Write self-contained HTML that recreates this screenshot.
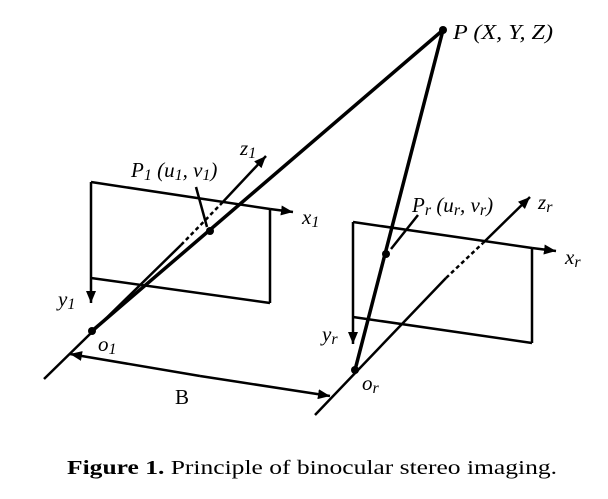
<!DOCTYPE html>
<html><head><meta charset="utf-8"><style>
html,body{margin:0;padding:0;background:#fff;}
svg{display:block;}
text{font-family:"Liberation Serif",serif;fill:#000;}
.it{font-style:italic;}
</style></head><body>
<svg width="608" height="499" viewBox="0 0 608 499" xmlns="http://www.w3.org/2000/svg">
<defs>
<marker id="ab" markerWidth="12" markerHeight="10" refX="12" refY="5" orient="auto" markerUnits="userSpaceOnUse"><path d="M0,0 L12,5 L0,10 z" fill="#000"/></marker>
</defs>
<g stroke="#000" stroke-width="2.5" fill="none">
<line x1="91" y1="182" x2="270" y2="209"/>
<line x1="270" y1="209" x2="293" y2="212" marker-end="url(#ab)"/>
<line x1="270" y1="209" x2="270" y2="303"/>
<line x1="91" y1="278" x2="270" y2="303"/>
<line x1="91" y1="182" x2="91" y2="303" marker-end="url(#ab)"/>
<line x1="44" y1="379" x2="181" y2="245"/>
<line x1="181" y1="245" x2="220" y2="205" stroke-dasharray="4,3"/>
<line x1="220" y1="205" x2="266" y2="156" marker-end="url(#ab)"/>
<line x1="353" y1="222" x2="532" y2="248"/>
<line x1="532" y1="248" x2="556" y2="251" marker-end="url(#ab)"/>
<line x1="532" y1="248" x2="532" y2="343"/>
<line x1="353" y1="317" x2="532" y2="343"/>
<line x1="353" y1="222" x2="353" y2="344" marker-end="url(#ab)"/>
<line x1="315" y1="415" x2="446" y2="278"/>
<line x1="446" y1="278" x2="483" y2="243" stroke-dasharray="4,3"/>
<line x1="483" y1="243" x2="530" y2="197" marker-end="url(#ab)"/>
<line x1="200" y1="376" x2="70" y2="354" marker-end="url(#ab)"/>
<line x1="200" y1="376" x2="330" y2="396" marker-end="url(#ab)"/>
<line x1="196" y1="187" x2="207" y2="227"/>
<line x1="418" y1="215" x2="391" y2="249"/>
</g>
<g stroke="#000" stroke-width="3.5" fill="none">
<line x1="92" y1="331" x2="443" y2="30"/>
<line x1="355" y1="370" x2="443" y2="30"/>
</g>
<g fill="#000">
<circle cx="443" cy="30" r="4"/>
<circle cx="92" cy="331" r="4"/>
<circle cx="355" cy="370" r="4"/>
<circle cx="210" cy="231" r="4"/>
<circle cx="386" cy="254" r="4"/>
</g>
<text class="it" x="453" y="39" font-size="21" textLength="100" lengthAdjust="spacingAndGlyphs">P (X, Y, Z)</text>
<text class="it" x="131" y="177" font-size="21">P<tspan font-size="16" dy="3">1</tspan><tspan dy="-3"> (u</tspan><tspan font-size="16" dy="3">1</tspan><tspan dy="-3">, v</tspan><tspan font-size="16" dy="3">1</tspan><tspan dy="-3">)</tspan></text>
<text class="it" x="240" y="155" font-size="21">z<tspan font-size="16" dy="3">1</tspan></text>
<text class="it" x="302" y="224" font-size="21">x<tspan font-size="16" dy="3">1</tspan></text>
<text class="it" x="58" y="306" font-size="21">y<tspan font-size="16" dy="3">1</tspan></text>
<text class="it" x="98" y="351" font-size="21">o<tspan font-size="16" dy="3">1</tspan></text>
<text x="175" y="404" font-size="21">B</text>
<text class="it" x="412" y="212" font-size="21">P<tspan font-size="16" dy="3">r</tspan><tspan dy="-3"> (u</tspan><tspan font-size="16" dy="3">r</tspan><tspan dy="-3">, v</tspan><tspan font-size="16" dy="3">r</tspan><tspan dy="-3">)</tspan></text>
<text class="it" x="538" y="209" font-size="21">z<tspan font-size="16" dy="3">r</tspan></text>
<text class="it" x="565" y="264" font-size="21">x<tspan font-size="16" dy="3">r</tspan></text>
<text class="it" x="322" y="341" font-size="21">y<tspan font-size="16" dy="3">r</tspan></text>
<text class="it" x="362" y="390" font-size="21">o<tspan font-size="16" dy="3">r</tspan></text>
<text x="67" y="474" font-size="20" textLength="490" lengthAdjust="spacingAndGlyphs"><tspan font-weight="bold">Figure 1.</tspan> Principle of binocular stereo imaging.</text>
</svg>
</body></html>
